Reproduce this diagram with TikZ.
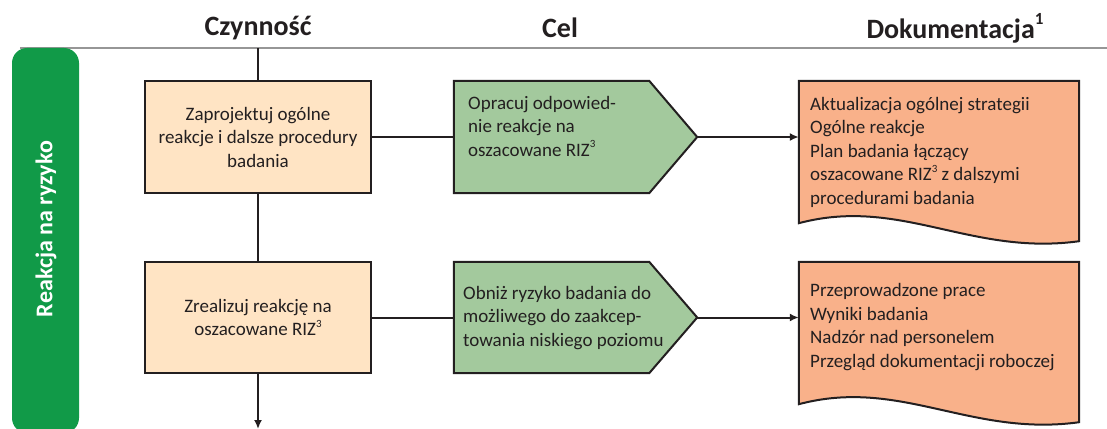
\documentclass[tikz,border=0pt]{standalone}
\usepackage{fontspec}
\setmainfont{Carlito}
\usetikzlibrary{arrows.meta}
\definecolor{bandgreen}{RGB}{17,154,72}
\definecolor{pentgreen}{RGB}{163,201,157}
\definecolor{actfill}{RGB}{255,228,196}
\definecolor{docfill}{RGB}{249,177,138}
\definecolor{ink}{RGB}{35,31,32}
\definecolor{rule}{RGB}{150,150,150}
\newcommand{\supthree}{\raisebox{0.45em}{\fontsize{11}{11}\selectfont 3}}
\newcommand{\supone}{\raisebox{0.5em}{\fontsize{17}{17}\bfseries\selectfont 1}}
\begin{document}
\begin{tikzpicture}[x=1pt,y=-1pt,
  txt/.style={font=\fontsize{19}{23.5}\selectfont, text=ink, inner sep=0pt},
  hdr/.style={font=\fontsize{28}{30}\bfseries\selectfont, text=ink, inner sep=0pt},
  actbox/.style={draw=ink, line width=2pt, fill=actfill, minimum width=226pt, minimum height=112pt, inner sep=0pt, align=center, font=\fontsize{19}{23.5}\selectfont, text=ink},
  frame/.style={draw=none, minimum width=243pt, minimum height=112pt, inner sep=0pt},
  docframe/.style={draw=none, minimum width=280pt, minimum height=142pt, inner sep=0pt},
  shapeline/.style={draw=ink, line width=2pt},
  conn/.style={draw=ink, line width=2pt},
  arr/.style={conn, -{Latex[length=9pt,width=8pt]}}
]
\useasboundingbox (0,0) rectangle (1107,428);

% headers
\node[hdr] (h1) at (258,28) {Czynność};
\node[hdr] (h2) at (560,28) {Cel};
\node[hdr] (h3) at (955,28) {Dokumentacja\supone};

% gray rule
\coordinate (rl) at (20,48);
\coordinate (rr) at (1107,48);
\draw[rule, line width=1.5pt] (rl) -- (rr);

% green band
\fill[bandgreen, rounded corners=15pt] (12,48) rectangle (79,433);
\node[rotate=90, font=\fontsize{24}{27}\bfseries\selectfont, text=white, inner sep=0pt] (band) at (46,229) {Reakcja na ryzyko};

% activity boxes
\node[actbox] (a1) at (258,137) {Zaprojektuj ogólne\\reakcje i dalsze procedury\\badania};
\node[actbox, minimum height=111pt] (a2) at (258,317.5) {Zrealizuj reakcję na\\oszacowane RIZ\supthree};

% pentagons (goal)
\node[frame] (p1) at (575.5,137) {};
\node[frame, minimum height=111pt] (p2) at (575.5,317.5) {};
\foreach \p in {p1,p2}{
  \filldraw[shapeline, fill=pentgreen] (\p.north west) -- ([xshift=-48pt]\p.north east) -- (\p.east) -- ([xshift=-48pt]\p.south east) -- (\p.south west) -- cycle;
}
\node[txt, anchor=west, align=left] (t1) at (468,126) {Opracuj odpowied-\\nie reakcje na\\oszacowane RIZ\supthree};
\node[txt, anchor=west, align=left] (t2) at (463,318) {Obniż ryzyko badania do\\możliwego do zaakcep-\\towania niskiego poziomu};

% documents
\node[docframe] (d1) at (939,152) {};
\node[docframe] (d2) at (939,333) {};
\foreach \d in {d1,d2}{
  \filldraw[shapeline, fill=docfill] (\d.north west) -- (\d.north east) -- ([yshift=-18pt]\d.south east)
     .. controls ([xshift=-109pt,yshift=-33pt]\d.south east) and ([xshift=-179pt,yshift=27pt]\d.south east) .. (\d.south west) -- cycle;
}
\node[txt, anchor=west, align=left] (dt1) at (810,152) {Aktualizacja ogólnej strategii\\Ogólne reakcje\\Plan badania łączący\\oszacowane RIZ\supthree{} z dalszymi\\procedurami badania};
\node[txt, anchor=west, align=left] (dt2) at (810,327) {Przeprowadzone prace\\Wyniki badania\\Nadzór nad personelem\\Przegląd dokumentacji roboczej};

% connectors
\coordinate (top) at (258,48);
\coordinate (bot) at (258,429);
\draw[conn] (top) -- (a1.north);
\draw[conn] (a1.south) -- (a2.north);
\draw[arr] (a2.south) -- (bot);
\draw[conn] (a1.east) -- (p1.west);
\draw[conn] (a2.east) -- (p2.west);
\draw[arr] (p1.east) -- (d1.west |- p1.east);
\draw[arr] (p2.east) -- (d2.west |- p2.east);
\end{tikzpicture}
\end{document}
